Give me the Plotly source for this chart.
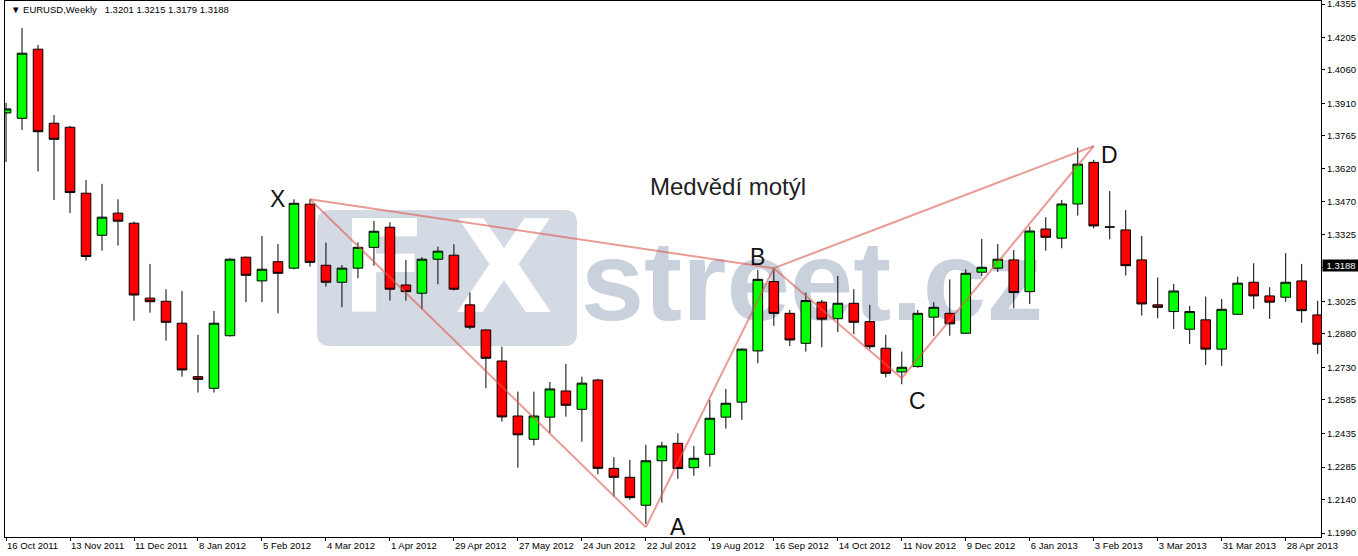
import pandas as pd
import plotly.graph_objects as go

# ---------------- data ----------------
week_start = "2011-10-16"
n_weeks = 83
dates = pd.date_range(week_start, periods=n_weeks, freq="7D")

open_ = [1.3868, 1.3844, 1.4153, 1.3822, 1.3804, 1.3509, 1.3321, 1.3420, 1.3375, 1.3040,
         1.3026, 1.2928, 1.2689, 1.2637, 1.2872, 1.3223, 1.3117, 1.3203, 1.3174, 1.3460,
         1.3187, 1.3111, 1.3174, 1.3267, 1.3357, 1.3099, 1.3062, 1.3214, 1.3232, 1.3010,
         1.2898, 1.2759, 1.2513, 1.2409, 1.2508, 1.2625, 1.2543, 1.2674, 1.2279, 1.2239,
         1.2114, 1.2313, 1.2391, 1.2282, 1.2342, 1.2508, 1.2575, 1.2804, 1.3114, 1.2972,
         1.2838, 1.3022, 1.2948, 1.3017, 1.2935, 1.2816, 1.2710, 1.2734, 1.2955, 1.2972,
         1.2883, 1.3156, 1.3174, 1.3211, 1.3069, 1.3349, 1.3308, 1.3461, 1.3647, 1.3358,
         1.3345, 1.3211, 1.3010, 1.2980, 1.2901, 1.2943, 1.2812, 1.2968, 1.3111, 1.3050,
         1.3044, 1.3117, 1.2965]
high = [1.3913, 1.4247, 1.4172, 1.3859, 1.3810, 1.3568, 1.3551, 1.3482, 1.3382, 1.3193,
        1.3080, 1.3072, 1.2876, 1.2983, 1.3218, 1.3226, 1.3318, 1.3282, 1.3482, 1.3482,
        1.3288, 1.3188, 1.3290, 1.3385, 1.3379, 1.3211, 1.3223, 1.3270, 1.3281, 1.3065,
        1.2901, 1.2823, 1.2622, 1.2622, 1.2665, 1.2746, 1.2689, 1.2679, 1.2329, 1.2317,
        1.2384, 1.2398, 1.2436, 1.2379, 1.2585, 1.2634, 1.2815, 1.3166, 1.3170, 1.2987,
        1.3065, 1.3032, 1.3139, 1.3080, 1.3010, 1.2876, 1.2801, 1.2987, 1.3022, 1.3124,
        1.3169, 1.3305, 1.3282, 1.3255, 1.3360, 1.3402, 1.3479, 1.3713, 1.3658, 1.3519,
        1.3434, 1.3318, 1.3132, 1.3104, 1.3005, 1.3047, 1.3036, 1.3136, 1.3196, 1.3089,
        1.3241, 1.3193, 1.3028]
low = [1.3649, 1.3792, 1.3606, 1.3479, 1.3420, 1.3208, 1.3252, 1.3275, 1.2939, 1.2975,
       1.2850, 1.2689, 1.2618, 1.2618, 1.2868, 1.3022, 1.3022, 1.2972, 1.3169, 1.3181,
       1.3091, 1.2999, 1.3129, 1.3185, 1.3029, 1.3029, 1.2990, 1.3102, 1.3074, 1.2901,
       1.2637, 1.2488, 1.2282, 1.2381, 1.2436, 1.2510, 1.2398, 1.2253, 1.2153, 1.2138,
       1.2031, 1.2126, 1.2232, 1.2246, 1.2287, 1.2457, 1.2496, 1.2749, 1.2916, 1.2826,
       1.2801, 1.2820, 1.2888, 1.2879, 1.2812, 1.2686, 1.2655, 1.2729, 1.2871, 1.2872,
       1.2880, 1.3139, 1.3157, 1.2995, 1.3013, 1.3252, 1.3263, 1.3409, 1.3352, 1.3303,
       1.3141, 1.2962, 1.2950, 1.2902, 1.2835, 1.2741, 1.2737, 1.2965, 1.2992, 1.2947,
       1.3024, 1.2930, 1.2791]
close = [1.3886, 1.4135, 1.3784, 1.3750, 1.3512, 1.3226, 1.3402, 1.3384, 1.3054, 1.3024,
         1.2932, 1.2719, 1.2677, 1.2928, 1.3214, 1.3142, 1.3169, 1.3151, 1.3464, 1.3200,
         1.3111, 1.3174, 1.3267, 1.3339, 1.3080, 1.3069, 1.3214, 1.3250, 1.3080, 1.2910,
         1.2771, 1.2509, 1.2429, 1.2513, 1.2634, 1.2561, 1.2660, 1.2279, 1.2239, 1.2148,
         1.2313, 1.2379, 1.2278, 1.2324, 1.2503, 1.2570, 1.2812, 1.3124, 1.2972, 1.2853,
         1.3029, 1.2946, 1.3017, 1.2932, 1.2823, 1.2704, 1.2731, 1.2972, 1.2999, 1.2925,
         1.3151, 1.3178, 1.3214, 1.3065, 1.3340, 1.3312, 1.3461, 1.3639, 1.3363, 1.3358,
         1.3185, 1.3014, 1.2999, 1.3072, 1.2980, 1.2812, 1.2990, 1.3107, 1.3050, 1.3022,
         1.3111, 1.2984, 1.2834]

x_tick_labels = ["16 Oct 2011", "13 Nov 2011", "11 Dec 2011", "8 Jan 2012", "5 Feb 2012",
                 "4 Mar 2012", "1 Apr 2012", "29 Apr 2012", "27 May 2012", "24 Jun 2012",
                 "22 Jul 2012", "19 Aug 2012", "16 Sep 2012", "14 Oct 2012", "11 Nov 2012",
                 "9 Dec 2012", "6 Jan 2013", "3 Feb 2013", "3 Mar 2013", "31 Mar 2013",
                 "28 Apr 2013"]
x_tick_dates = list(dates[::4])

y_tick_values = [1.1990, 1.2140, 1.2285, 1.2435, 1.2585, 1.2730, 1.2880, 1.3025, 1.3175,
                 1.3325, 1.3470, 1.3620, 1.3765, 1.3910, 1.4060, 1.4205, 1.4355]
# the 1.3175 label sits under the current-price box in the reference
y_tick_labels = ["1.1990", "1.2140", "1.2285", "1.2435", "1.2585", "1.2730", "1.2880",
                 "1.3025", "", "1.3325", "1.3470", "1.3620", "1.3765", "1.3910",
                 "1.4060", "1.4205", "1.4355"]

# harmonic pattern points
point_names = ["X", "A", "B", "C", "D"]
point_dates = ["2012-02-26", "2012-07-22", "2012-09-16", "2012-11-11", "2013-02-03"]
point_prices = [1.3482, 1.2016, 1.3174, 1.2682, 1.3720]
legs = [("X", "A"), ("A", "B"), ("B", "C"), ("C", "D"), ("X", "B"), ("B", "D")]

label_dates = ["2012-02-12", "2012-08-05", "2012-09-09", "2012-11-18", "2013-02-10"]
label_prices = [1.3484, 1.2019, 1.3225, 1.2581, 1.3680]

title_text = "Medvědí motýl"
title_date = "2012-07-22 22:00"
title_price = 1.3541

header_text = "▼ EURUSD,Weekly\u00a0\u00a0 1.3201 1.3215 1.3179 1.3188"
last_price = 1.3188

# ---------------- figure ----------------
fig = go.Figure()

fig.add_trace(go.Candlestick(
    x=dates, open=open_, high=high, low=low, close=close,
    increasing=dict(line=dict(color="black", width=1), fillcolor="#00ff00"),
    decreasing=dict(line=dict(color="black", width=1), fillcolor="#ff0000"),
    whiskerwidth=0, hoverinfo="x+y",
))

pt = {n: (d, p) for n, d, p in zip(point_names, point_dates, point_prices)}
for a, b in legs:
    fig.add_trace(go.Scatter(
        x=[pt[a][0], pt[b][0]], y=[pt[a][1], pt[b][1]], mode="lines",
        line=dict(color="rgba(218,90,80,0.6)", width=2), hoverinfo="skip",
    ))

# plot-area pixel helpers (for decorative watermark placement)
PL, PR, PT, PB = 5, 1321, 1, 537
def fx(px):
    return (px - PL) / (PR - PL)
def fy(py):
    return (PB - py) / (PB - PT)

# watermark: rounded box
x0, x1, y0, y1 = fx(317), fx(577), fy(346), fy(210)
rx, ry = 13 / (PR - PL), 13 / (PB - PT)
path = (f"M {x0+rx},{y0} L {x1-rx},{y0} Q {x1},{y0} {x1},{y0+ry} "
        f"L {x1},{y1-ry} Q {x1},{y1} {x1-rx},{y1} L {x0+rx},{y1} "
        f"Q {x0},{y1} {x0},{y1-ry} L {x0},{y0+ry} Q {x0},{y0} {x0+rx},{y0} Z")
shapes = [dict(type="path", path=path, xref="paper", yref="paper",
               fillcolor="#d4dae4", line=dict(width=0), layer="below")]

def text_box(px0, px1, py0, py1, text, size, color, family):
    return dict(type="rect", xref="paper", yref="paper",
                x0=fx(px0), x1=fx(px1), y0=fy(py1), y1=fy(py0),
                fillcolor="rgba(0,0,0,0)", line=dict(width=0), layer="below",
                label=dict(text=text, textposition="middle center", padding=0,
                           font=dict(family=family, size=size, color=color, weight=700)))

shapes.append(text_box(334, 434, 196, 320, "F", 128, "white", "DejaVu Sans"))
shapes.append(text_box(444, 564, 196, 320, "X", 128, "white", "DejaVu Sans"))
shapes.append(text_box(577, 1047, 214, 324, "street.cz", 114, "#c9d1dd", "Liberation Sans"))

annotations = []
for name, d, p in zip(point_names, label_dates, label_prices):
    annotations.append(dict(x=d, y=p, xref="x", yref="y", text=name, showarrow=False,
                            xanchor="center", yanchor="middle",
                            font=dict(family="Liberation Sans", size=23, color="#111111")))
annotations.append(dict(x=title_date, y=title_price, xref="x", yref="y", text=title_text,
                        showarrow=False, xanchor="left", yanchor="middle",
                        font=dict(family="Liberation Sans", size=24, color="#222222")))
annotations.append(dict(x=fx(9), y=fy(10), xref="paper", yref="paper", text=header_text,
                        showarrow=False, xanchor="left", yanchor="middle",
                        font=dict(family="Liberation Sans", size=9.5, color="black")))
annotations.append(dict(x=1.0, y=last_price, xref="paper", yref="y", text=f"{last_price:.4f}",
                        showarrow=False, xanchor="left", yanchor="middle", xshift=1,
                        bgcolor="black", borderpad=0, width=36, height=11, align="center",
                        font=dict(family="Liberation Sans", size=9.5, color="white")))

fig.update_layout(
    template="none",
    width=1358, height=556,
    margin=dict(l=PL, r=1358 - PR, t=PT, b=556 - PB),
    paper_bgcolor="white", plot_bgcolor="white",
    showlegend=False,
    boxgap=0.4, boxgroupgap=0,
    font=dict(family="Liberation Sans", size=9.5, color="black"),
    shapes=shapes,
    annotations=annotations,
    hovermode=False,
)

fig.update_xaxes(
    type="date",
    range=["2011-10-15 13:00", "2013-05-13 11:00"],
    tickvals=x_tick_dates, ticktext=x_tick_labels,
    ticks="outside", ticklen=3, tickcolor="black", tickwidth=1,
    ticklabelposition="outside right", ticklabeloverflow="allow",
    tickfont=dict(family="Liberation Sans", size=9.5, color="black"),
    showline=True, linecolor="black", linewidth=1, mirror=True,
    showgrid=False, zeroline=False, automargin=False,
    rangeslider=dict(visible=False),
)
fig.update_yaxes(
    side="right",
    range=[1.19721, 1.43684],
    tickvals=y_tick_values, ticktext=y_tick_labels,
    ticks="outside", ticklen=3, tickcolor="black", tickwidth=1,
    ticklabeloverflow="allow",
    tickfont=dict(family="Liberation Sans", size=9.5, color="black"),
    showline=True, linecolor="black", linewidth=1, mirror=True,
    showgrid=False, zeroline=False, automargin=False,
)

fig.write_html("out.html", config={"displayModeBar": False},
               post_script="document.body.style.margin='0px';document.body.style.padding='0px';")
